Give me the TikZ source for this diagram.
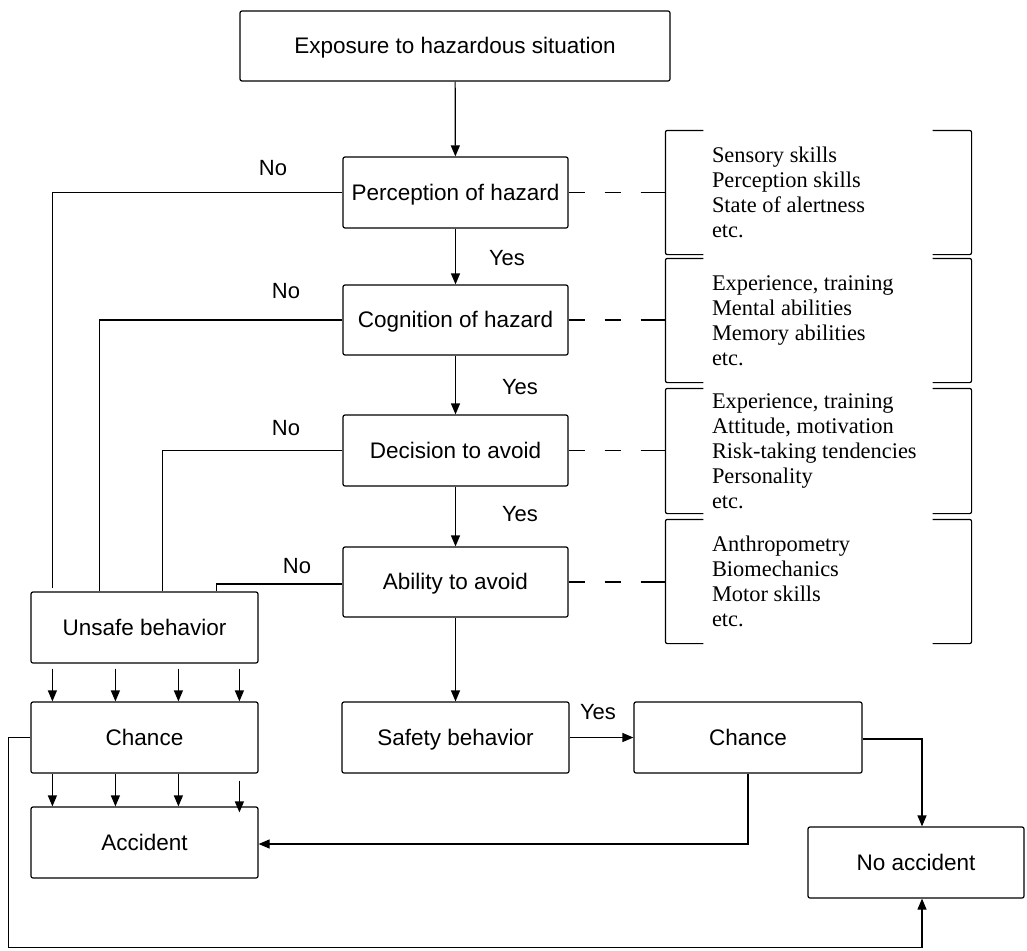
\documentclass[tikz,border=0pt]{standalone}
\usepackage{fontspec}
\setmainfont{Liberation Serif}
\setsansfont{Liberation Sans}
\usetikzlibrary{arrows.meta,calc}
\begin{document}
\begin{tikzpicture}[x=1pt,y=-1pt,line width=1.2pt,
  box/.style={draw,rounded corners=2pt,font=\sffamily\fontsize{22.5}{27}\selectfont,minimum width=225pt,minimum height=71pt,inner sep=0pt,text height=15pt,text depth=0pt},
  lbl/.style={font=\sffamily\fontsize{22}{26}\selectfont,inner sep=0pt},
  arr/.style={-{Triangle[length=11pt,width=9pt]}},
  dashline/.style={dash pattern=on 16pt off 20pt},
  brk/.style={minimum width=305pt,minimum height=123pt,inner sep=0pt},
  brkline/.style={rounded corners=2pt},
  btext/.style={font=\rmfamily\fontsize{22.4}{25}\selectfont,align=left,inner sep=0pt,anchor=west}]
\useasboundingbox (0,0) rectangle (1027,950);

% main boxes
\node[box,minimum width=430pt,minimum height=70pt] (expo) at (455,46) {Exposure to hazardous situation};
\node[box] (perc) at (455.5,192.5) {Perception of hazard};
\node[box,minimum height=70pt] (cog) at (455.5,320) {Cognition of hazard};
\node[box] (dec) at (455.5,450.5) {Decision to avoid};
\node[box,minimum height=70pt] (abil) at (455.5,582) {Ability to avoid};
\node[box,minimum width=227pt] (unsafe) at (144.5,627.5) {Unsafe behavior};
\node[box,minimum width=227pt] (chL) at (144.5,737.5) {Chance};
\node[box,minimum width=227pt] (acc) at (144.5,842.5) {Accident};
\node[box,minimum width=227pt] (safe) at (455.5,737.5) {Safety behavior};
\node[box,minimum width=228pt] (chR) at (748,737.5) {Chance};
\node[box,minimum width=216pt] (noacc) at (916,862.5) {No accident};

% bracket areas
\node[brk] (b1) at (818.5,192.5) {};
\node[brk] (b2) at (818.5,320.5) {};
\node[brk,minimum height=124pt] (b3) at (818.5,451) {};
\node[brk] (b4) at (818.5,581.5) {};
\foreach \b in {b1,b2,b3,b4}{
  \draw[brkline] ([xshift=38pt]\b.north west) -- (\b.north west) -- (\b.south west) -- ([xshift=38pt]\b.south west);
  \draw[brkline] ([xshift=-39pt]\b.north east) -- (\b.north east) -- (\b.south east) -- ([xshift=-39pt]\b.south east);
}
\node[btext] (t1) at ([xshift=46pt]b1.west) {Sensory skills\\Perception skills\\State of alertness\\etc.};
\node[btext] (t2) at ([xshift=46pt]b2.west) {Experience, training\\Mental abilities\\Memory abilities\\etc.};
\node[btext] (t3) at ([xshift=46pt]b3.west) {Experience, training\\Attitude, motivation\\Risk-taking tendencies\\Personality\\etc.};
\node[btext] (t4) at ([xshift=46pt]b4.west) {Anthropometry\\Biomechanics\\Motor skills\\etc.};

% dashed links
\draw[dashline] (perc.east) -- (perc.east -| b1.west);
\draw[dashline] (cog.east) -- (cog.east -| b2.west);
\draw[dashline] (dec.east) -- (dec.east -| b3.west);
\draw[dashline] (abil.east) -- (abil.east -| b4.west);
% last dash reaches the bracket
\draw ([xshift=-24pt]perc.east -| b1.west) -- (perc.east -| b1.west);
\draw ([xshift=-24pt]cog.east -| b2.west) -- (cog.east -| b2.west);
\draw ([xshift=-24pt]dec.east -| b3.west) -- (dec.east -| b3.west);
\draw ([xshift=-24pt]abil.east -| b4.west) -- (abil.east -| b4.west);

% main vertical flow
\draw[arr] (expo) -- (perc);
\draw[arr] (perc) -- (cog);
\draw[arr] (cog) -- (dec);
\draw[arr] (dec) -- (abil);
\draw[arr] (abil) -- (safe);

% No lines
\draw (perc.west) -| ([xshift=22pt,yshift=3pt]unsafe.north west);
\draw (cog.west) -| ([xshift=69pt]unsafe.north west);
\draw (dec.west) -| ([xshift=132pt]unsafe.north west);
\draw ([yshift=-2pt]abil.west) -| ([xshift=186pt]unsafe.north west);

% labels
\node[lbl] (no1) at (273,168) {No};
\node[lbl] (no2) at (286,291) {No};
\node[lbl] (no3) at (286,428) {No};
\node[lbl] (no4) at (297,566) {No};
\node[lbl] (y1) at (507,258) {Yes};
\node[lbl] (y2) at (520,387) {Yes};
\node[lbl] (y3) at (520,514) {Yes};
\node[lbl] (y4) at (598,712) {Yes};

% unsafe -> chance
\foreach \dx in {22,85,148,209}{
  \draw[arr] ([xshift=\dx pt,yshift=-5pt]unsafe.south west) -- ([xshift=\dx pt]chL.north west);
}
% chance -> accident
\foreach \dx in {22,85,148}{
  \draw[arr] ([xshift=\dx pt]chL.south west) -- ([xshift=\dx pt]acc.north west);
}
\draw[arr] ([xshift=209pt,yshift=-7pt]chL.south west) -- ([xshift=209pt,yshift=-6pt]acc.north west);

% right side
\draw[arr] (safe) -- (chR);
\draw[arr] (chR.south) |- ([yshift=-1.5pt]acc.east);
\draw[arr] ([yshift=-1.5pt]chR.east) -| ([xshift=6pt]noacc.north);
\draw[arr] (chL.west) -- ++(-22,0) |- ([xshift=6pt,yshift=-49pt]noacc.south) -- ([xshift=6pt]noacc.south);
\end{tikzpicture}
\end{document}
